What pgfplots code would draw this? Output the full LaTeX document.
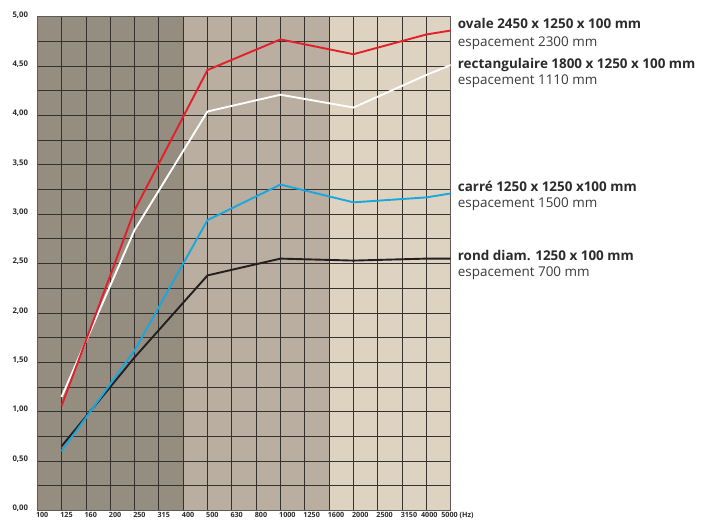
\documentclass[border=0pt]{standalone}
\usepackage{pgfplots}
\pgfplotsset{compat=1.18}
\usepackage{fontspec}
\setmainfont{Open Sans}
\definecolor{bgdark}{HTML}{968D81}
\definecolor{bgmid}{HTML}{B9AEA0}
\definecolor{bglight}{HTML}{DED3C1}
\definecolor{gridc}{HTML}{36312C}
\definecolor{cred}{HTML}{E3202A}
\definecolor{cblue}{HTML}{1AA7E0}
\definecolor{cblack}{HTML}{231F20}
\definecolor{txt}{HTML}{2B2B2B}
\definecolor{txtr}{HTML}{3A3A3A}
\begin{document}
\begin{tikzpicture}
\begin{axis}[
  set layers,
  at={(37.3bp,9.6bp)}, anchor=south west,
  width=413.4bp, height=493.7bp, scale only axis,
  xmin=0, xmax=17, ymin=0, ymax=5,
  xtick={0,...,17},
  xticklabels={100,125,160,200,250,315,400,500,630,800,1000,1250,1600,2000,2500,3150,{\hspace*{-4bp}4000},{\hspace*{-8bp}5000 (Hz)}},
  ytick={0,0.5,...,5},
  yticklabels={{0,00},{0,50},{1,00},{1,50},{2,00},{2,50},{3,00},{3,50},{4,00},{4,50},{5,00}},
  minor ytick={0.25,0.75,...,4.75},
  grid=both,
  major grid style={gridc, line width=0.8bp},
  minor grid style={gridc, line width=0.8bp},
  major tick length=0pt, minor tick length=0pt,
  axis line style={draw=gridc!80, line width=0.8bp},
  xticklabel style={anchor=north west, inner sep=0pt, xshift=-1.5bp, yshift=-1.8bp, font=\fontsize{7.2}{7.5}\selectfont\bfseries, text=txt},
  yticklabel style={anchor=east, inner sep=0pt, xshift=-9bp, yshift=2bp, font=\fontsize{7.8}{8}\selectfont\bfseries, text=txt},
]
\addplot[fill=bgdark, draw=none, on layer=axis background] coordinates {(0,5) (6,5)} \closedcycle;
\addplot[fill=bgmid, draw=none, on layer=axis background] coordinates {(6,5) (12,5)} \closedcycle;
\addplot[fill=bglight, draw=none, on layer=axis background] coordinates {(12,5) (17,5)} \closedcycle;
\addplot[cblack, line width=1.9bp] coordinates {(1,0.65) (4,1.55) (7,2.38) (10,2.55) (13,2.53) (16,2.55) (17,2.55)};
\addplot[cblue, line width=1.9bp] coordinates {(1,0.60) (4,1.62) (7,2.94) (10,3.30) (13,3.12) (16,3.17) (17,3.21)};
\addplot[white, line width=1.9bp] coordinates {(1,1.15) (4,2.84) (7,4.04) (10,4.21) (13,4.08) (16,4.41) (17,4.51)};
\addplot[cred, line width=1.9bp] coordinates {(1,1.06) (4,3.04) (7,4.46) (10,4.77) (13,4.62) (16,4.82) (17,4.86)};
\end{axis}
\begin{scope}[every node/.style={anchor=base west, inner sep=0pt}]
\node[text=txt, font=\fontsize{13.5}{15}\selectfont\bfseries] at (457.7bp,491bp) {ovale 2450 x 1250 x 100 mm};
\node[text=txtr, font=\fontsize{13.5}{15}\selectfont] at (457.7bp,473.3bp) {espacement 2300 mm};
\node[text=txt, font=\fontsize{13.5}{15}\selectfont\bfseries] at (457.7bp,451bp) {rectangulaire 1800 x 1250 x 100 mm};
\node[text=txtr, font=\fontsize{13.5}{15}\selectfont] at (457.7bp,435bp) {espacement 1110 mm};
\node[text=txt, font=\fontsize{13.5}{15}\selectfont\bfseries] at (457.7bp,328.3bp) {carré 1250 x 1250 x100 mm};
\node[text=txtr, font=\fontsize{13.5}{15}\selectfont] at (457.7bp,312.7bp) {espacement 1500 mm};
\node[text=txt, font=\fontsize{13.5}{15}\selectfont\bfseries] at (457.7bp,259.3bp) {rond diam. 1250 x 100 mm};
\node[text=txtr, font=\fontsize{13.5}{15}\selectfont] at (457.7bp,243bp) {espacement 700 mm};
\end{scope}
\pgfresetboundingbox
\useasboundingbox (0,0) rectangle (702bp,520bp);
\end{tikzpicture}
\end{document}
